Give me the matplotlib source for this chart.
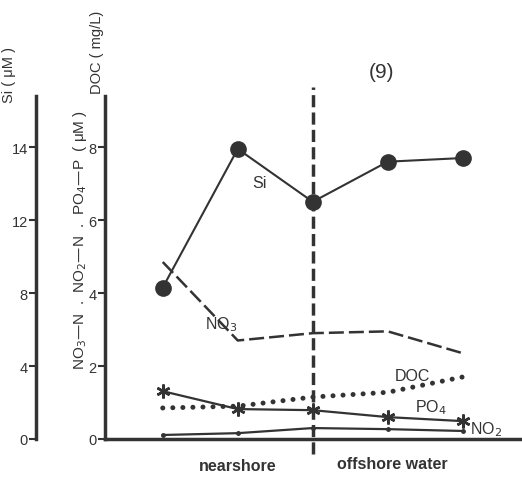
import matplotlib.pyplot as plt

plt.rcParams['font.family'] = ['Liberation Sans', 'DejaVu Sans']

# stations along the transect
stations = [1, 2, 3, 4, 5]
si = [8.3, 15.9, 13.0, 15.2, 15.4]          # uM (left scale)
no3 = [4.85, 2.70, 2.90, 2.95, 2.35]        # uM
doc = [0.85, 0.90, 1.15, 1.28, 1.70]        # mg/L
po4 = [1.31, 0.82, 0.79, 0.60, 0.49]        # uM
no2 = [0.11, 0.16, 0.30, 0.27, 0.22]        # uM
boundary = 3.0

main_ticks = [0, 2, 4, 6, 8]
si_ticks = [0, 4, 8, 12, 16]
si_ticklabels = ['0', '4', '8', '12', '14']

ink = '#333333'
W, H = 522, 481
fig = plt.figure(figsize=(W / 100, H / 100), dpi=100)
ax = fig.add_axes([105 / W, 41 / H, 417 / W, 343 / H])
ax.set_xlim(0.23, 5.79)
ax.set_ylim(0, 9.4)

for s in ['top', 'right']:
    ax.spines[s].set_visible(False)
for s in ['left', 'bottom']:
    ax.spines[s].set_linewidth(2.5)
    ax.spines[s].set_color(ink)
ax.set_xticks([])
ax.set_yticks(main_ticks)
ax.tick_params(axis='y', direction='out', length=5, width=1.5, colors=ink,
               labelsize=10.5, pad=1)

# Si on its own scale, spine pushed to the left
ax2 = ax.twinx()
ax2.set_ylim(0, 18.8)
ax2.set_xlim(ax.get_xlim())
for s in ['top', 'right', 'bottom']:
    ax2.spines[s].set_visible(False)
ax2.spines['left'].set_visible(True)
ax2.spines['left'].set_position(('axes', -0.165))
ax2.spines['left'].set_linewidth(2.5)
ax2.spines['left'].set_color(ink)
ax2.yaxis.set_ticks_position('left')
ax2.set_yticks(si_ticks, labels=si_ticklabels)
ax2.tick_params(axis='y', direction='out', length=5, width=1.5, colors=ink,
                labelsize=10.5, pad=1)

# series
ax.plot(stations, no3, color=ink, lw=1.8, dashes=(6, 2))
ax.plot(stations, doc, color=ink, lw=3.6, linestyle=(0, (0.01, 2.0)),
        dash_capstyle='round')
ax.plot(stations, po4, color=ink, lw=1.6, marker=(6, 2, 0), ms=10, mew=1.8)
ax.plot(stations, no2, color=ink, lw=1.6, marker='o', ms=2.5)
ax2.plot(stations, si, color=ink, lw=1.5, marker='o', ms=11)

# nearshore / offshore boundary
ax.plot([boundary, boundary], [-0.4, 9.65], color=ink, lw=2.5,
        dashes=(3.5, 1.5), clip_on=False)

# series labels
ax.text(2.29, 7.04, 'Si', fontsize=11.5, color=ink, ha='center', va='center')
ax.text(1.56, 3.15, 'NO$_3$', fontsize=11.5, color=ink, va='center')
ax.text(4.33, 1.75, 'DOC', fontsize=11.5, color=ink, ha='center', va='center')
ax.text(4.36, 0.88, 'PO$_4$', fontsize=11.5, color=ink, va='center')
ax.text(5.09, 0.27, 'NO$_2$', fontsize=11.5, color=ink, va='center')

fig.text(382 / W, 1 - 72 / H, '(9)', fontsize=15, color=ink,
         ha='center', va='center')
fig.text(238 / W, 1 - 467 / H, 'nearshore', fontsize=11.5, color=ink,
         ha='center', va='center', fontweight='bold')
fig.text(392 / W, 1 - 465 / H, 'offshore water', fontsize=11.5, color=ink,
         ha='center', va='center', fontweight='bold')

fig.text(9 / W, 1 - 75 / H, 'Si ( μM )', rotation=90, fontsize=10.5,
         color=ink, ha='center', va='center')
fig.text(80 / W, 1 - 240 / H,
         'NO$_3$—N  .  NO$_2$—N  .  PO$_4$—P  ( μM )',
         rotation=90, fontsize=11, color=ink, ha='center', va='center')
fig.text(97 / W, 1 - 52 / H, 'DOC ( mg/L)', rotation=90, fontsize=10.5,
         color=ink, ha='center', va='center')

fig.savefig('out.png', dpi=100, facecolor='white')
